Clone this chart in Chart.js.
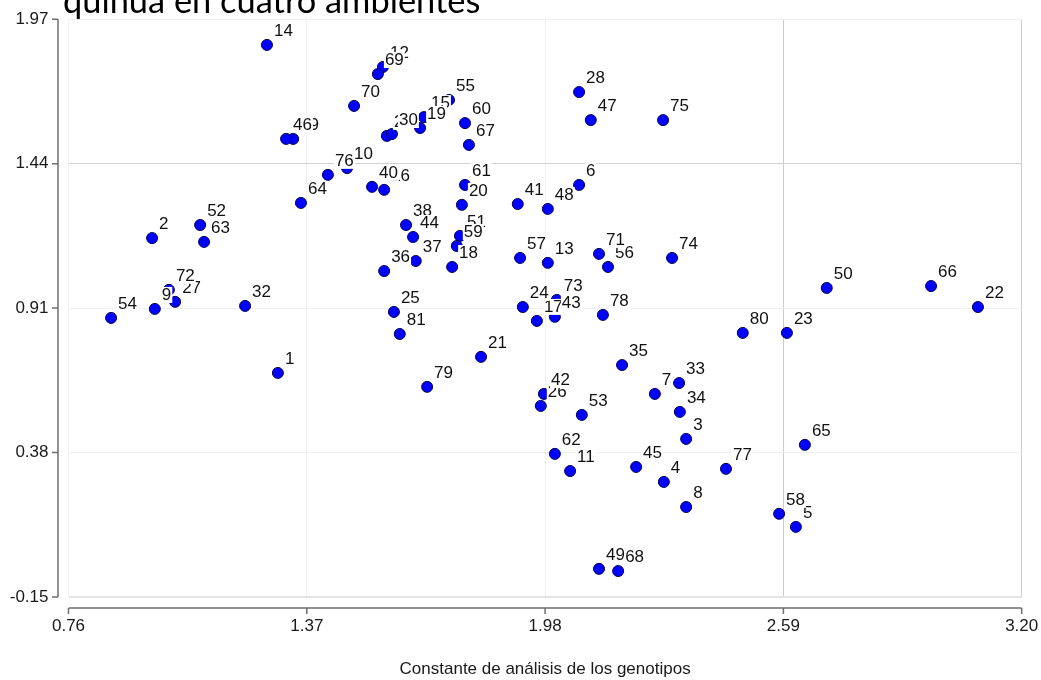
<!DOCTYPE html>
<html>
<head>
<meta charset="utf-8">
<script src="https://cdn.jsdelivr.net/npm/chart.js@4.4.1/dist/chart.umd.min.js"></script>
<style>
  html, body { margin: 0; padding: 0; background: #fff; }
  #wrap { width: 1041px; height: 680px; position: relative; }
</style>
</head>
<body>
<div id="wrap"><canvas id="chart-genotipos" width="1041" height="680"></canvas></div>
<script>
// genotipos (etiquetas de los puntos)
var genotipos = [1, 2, 3, 4, 5, 6, 7, 8, 9, 10, 11, 12, 13, 14, 15, 16, 17, 18, 19, 20,
    21, 22, 23, 24, 25, 26, 27, 28, 29, 30, 32, 33, 34, 35, 36, 37, 38, 39, 40,
    41, 42, 43, 44, 45, 46, 47, 48, 49, 50, 51, 52, 53, 54, 55, 56, 57, 58, 59, 60,
    61, 62, 63, 64, 65, 66, 67, 68, 69, 70, 71, 72, 73, 74, 75, 76, 77, 78, 79, 80, 81];

// constante de analisis (eje x)
var constX = [1.296, 0.974, 2.341, 2.284, 2.622, 2.067, 2.261, 2.341, 0.981, 1.473,
    2.044, 1.565, 1.987, 1.268, 1.670, 1.568, 1.959, 1.742, 1.660, 1.767,
    1.816, 3.088, 2.599, 1.923, 1.593, 1.969, 1.033, 2.067, 1.575, 1.588, 1.212, 2.323, 2.325, 2.177, 1.568, 1.649, 1.624, 1.335, 1.537,
    1.910, 1.977, 2.005, 1.642, 2.213, 1.317, 2.097, 1.987, 2.118, 2.701,
    1.762, 1.097, 2.074, 0.869, 1.734, 2.141, 1.916, 2.579, 1.754, 1.775,
    1.775, 2.005, 1.107, 1.355, 2.645, 2.968, 1.785, 2.167, 1.552, 1.491,
    2.118, 1.017, 2.010, 2.305, 2.282, 1.424, 2.443, 2.128, 1.678, 2.486, 1.608];

// eje y
var constY = [0.672, 1.167, 0.430, 0.272, 0.107, 1.362, 0.595, 0.180, 0.907, 1.424,
    0.312, 1.795, 1.076, 1.876, 1.611, 1.344, 0.863, 1.061, 1.571, 1.289,
    0.731, 0.914, 0.819, 0.914, 0.896, 0.551, 0.933, 1.703, 1.542, 1.549, 0.918, 0.635, 0.529, 0.701, 1.046, 1.083, 1.215, 1.531, 1.355,
    1.292, 0.595, 0.878, 1.171, 0.327, 1.531, 1.600, 1.274, -0.047, 0.984,
    1.175, 1.215, 0.518, 0.874, 1.674, 1.061, 1.094, 0.155, 1.138, 1.589,
    1.362, 0.375, 1.153, 1.296, 0.408, 0.991, 1.509, -0.055, 1.769, 1.652,
    1.109, 0.977, 0.940, 1.094, 1.600, 1.399, 0.320, 0.885, 0.621, 0.819, 0.815];

var xTicks = [0.76, 1.37, 1.98, 2.59, 3.20];
var yTicks = [-0.15, 0.38, 0.91, 1.44, 1.97];
var refX = 2.59;
var refY = 1.44;
var titulo = 'quinua en cuatro ambientes';
var ejeX = 'Constante de análisis de los genotipos';

var fontSans = "Arial, 'Liberation Sans', sans-serif";

var puntos = genotipos.map(function (g, i) {
    return { x: constX[i], y: constY[i] };
});

function gridX(ctx) {
    var v = ctx.tick && ctx.tick.value;
    if (Math.abs(v - refX) < 1e-6 || Math.abs(v - 3.20) < 1e-6) return '#cdcdcd';
    return '#f0f0f0';
}
function gridY(ctx) {
    var v = ctx.tick && ctx.tick.value;
    if (Math.abs(v - refY) < 1e-6) return '#d2d2d2';
    if (Math.abs(v - (-0.15)) < 1e-6) return '#e4e4e4';
    return '#efefef';
}

// etiquetas de genotipos con fondo blanco
var etiquetas = {
    id: 'etiquetas',
    afterDatasetsDraw: function (chart) {
        var ctx = chart.ctx;
        var meta = chart.getDatasetMeta(0);
        ctx.save();
        ctx.font = '17px ' + fontSans;
        ctx.textBaseline = 'alphabetic';
        ctx.textAlign = 'left';
        meta.data.forEach(function (el, i) {
            var txt = String(genotipos[i]);
            var tx = el.x + 7, ty = el.y - 9;
            var w = ctx.measureText(txt).width;
            ctx.fillStyle = '#ffffff';
            ctx.fillRect(tx - 1, ty - 13, w + 2, 16);
            ctx.fillStyle = '#111111';
            ctx.fillText(txt, tx, ty);
        });
        ctx.restore();
    }
};

// ejes desplazados y titulo cortado
var ejes = {
    id: 'ejes',
    afterDraw: function (chart) {
        var ctx = chart.ctx;
        var a = chart.chartArea;
        var sx = chart.scales.x, sy = chart.scales.y;
        ctx.save();
        ctx.strokeStyle = '#6f6f6f';
        ctx.lineWidth = 1.5;
        var axX = a.left - 10.5;
        ctx.beginPath();
        ctx.moveTo(axX, a.top);
        ctx.lineTo(axX, a.bottom);
        yTicks.forEach(function (v) {
            var py = sy.getPixelForValue(v);
            ctx.moveTo(axX, py);
            ctx.lineTo(axX - 6, py);
        });
        var axY = a.bottom + 11;
        ctx.moveTo(a.left, axY);
        ctx.lineTo(a.right, axY);
        xTicks.forEach(function (v) {
            var px = sx.getPixelForValue(v);
            ctx.moveTo(px, axY);
            ctx.lineTo(px, axY + 6);
        });
        ctx.stroke();

        ctx.fillStyle = '#000000';
        ctx.font = '30px Lato, Carlito, sans-serif';
        var w = ctx.measureText(titulo).width;
        var size = 30 * 418 / w;
        ctx.font = size.toFixed(1) + 'px Lato, Carlito, sans-serif';
        ctx.textBaseline = 'alphabetic';
        ctx.fillText(titulo, 63, 12.5);
        ctx.restore();
    }
};

var ctxChart = document.getElementById('chart-genotipos');
new Chart(ctxChart, {
    type: 'scatter',
    data: {
        datasets: [{
            data: puntos,
            pointRadius: 5.5,
            pointHoverRadius: 5.5,
            backgroundColor: '#0000ff',
            borderColor: '#000055',
            borderWidth: 1
        }]
    },
    options: {
        responsive: false,
        maintainAspectRatio: false,
        animation: false,
        devicePixelRatio: 1,
        layout: { padding: { top: 19.3, right: 19.3, left: 0, bottom: 0 } },
        plugins: { legend: { display: false }, tooltip: { enabled: false }, title: { display: false } },
        scales: {
            x: {
                type: 'linear',
                min: 0.76,
                max: 3.20,
                afterBuildTicks: function (s) { s.ticks = xTicks.map(function (v) { return { value: v }; }); },
                afterFit: function (s) { s.height = 83.1; s.paddingLeft = 0; s.paddingRight = 0; },
                grid: { color: gridX, lineWidth: 1, drawTicks: false },
                border: { display: false },
                ticks: {
                    padding: 19,
                    color: '#1a1a1a',
                    font: { family: fontSans, size: 17 },
                    maxRotation: 0,
                    callback: function (v) { return v.toFixed(2); }
                },
                title: {
                    display: true,
                    text: ejeX,
                    color: '#1a1a1a',
                    font: { family: fontSans, size: 17 },
                    padding: { top: 0, bottom: 0.5 }
                }
            },
            y: {
                type: 'linear',
                min: -0.15,
                max: 1.97,
                afterBuildTicks: function (s) { s.ticks = yTicks.map(function (v) { return { value: v }; }); },
                afterFit: function (s) { s.width = 68.5; s.paddingTop = 0; s.paddingBottom = 0; },
                grid: {
                    color: gridY,
                    lineWidth: function (ctx) { return Math.abs(ctx.tick.value + 0.15) < 1e-6 ? 2 : 1; },
                    drawTicks: false
                },
                border: { display: false },
                ticks: {
                    padding: 20,
                    color: '#1a1a1a',
                    font: { family: fontSans, size: 17 },
                    callback: function (v) { return v.toFixed(2); }
                }
            }
        }
    },
    plugins: [etiquetas, ejes]
});
</script>
</body>
</html>
